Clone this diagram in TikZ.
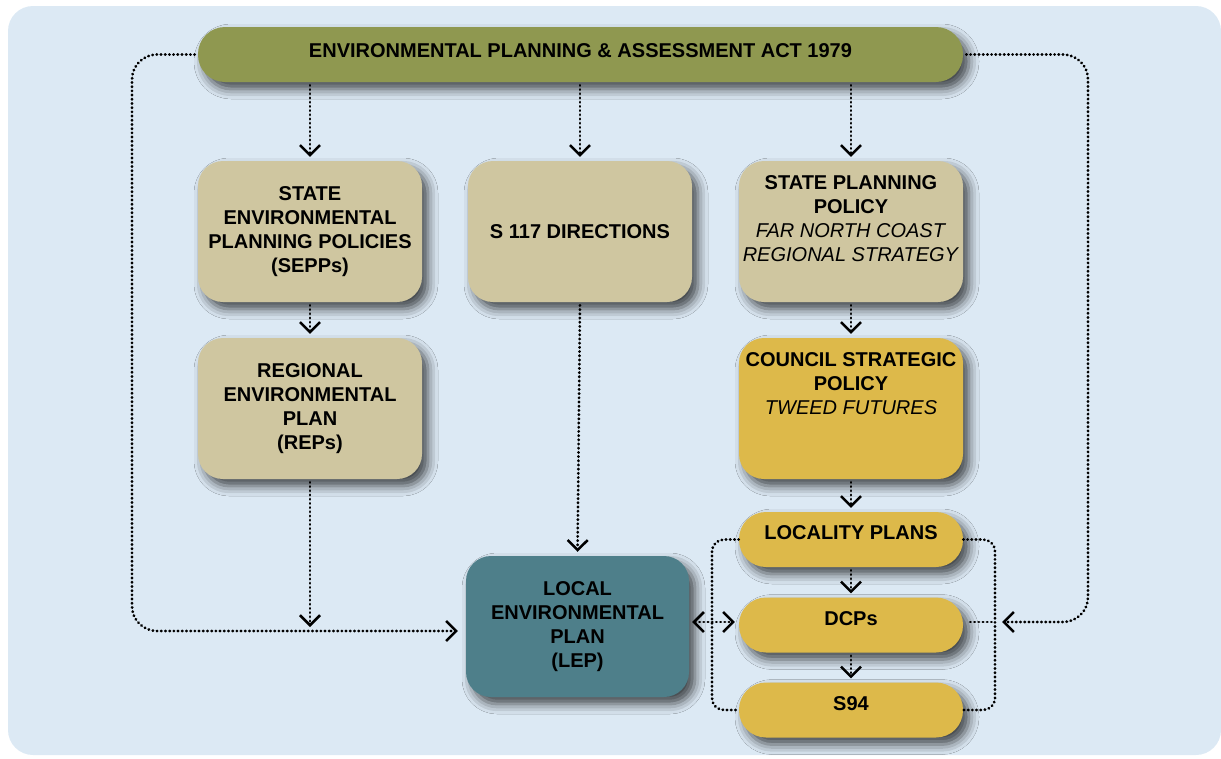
\documentclass[tikz,border=0pt]{standalone}
\usepackage{fontspec}
\setmainfont{Liberation Sans}
\usepackage{tikz}
\usetikzlibrary{arrows.meta,shadows.blur}
\definecolor{panelblue}{HTML}{DCE9F4}
\definecolor{actgreen}{HTML}{8F9850}
\definecolor{policytan}{HTML}{CFC6A0}
\definecolor{councilgold}{HTML}{DDB94A}
\definecolor{lepteal}{HTML}{4E7F8A}
\begin{document}
\begin{tikzpicture}[x=1pt,y=-1pt,
    >={Straight Barb[length=10pt,width=20pt,line width=2.5pt]},
    box/.style={rounded corners=25pt, minimum width=224pt, minimum height=141pt,
      align=center, inner sep=3pt, font=\fontsize{20}{24}\selectfont\bfseries,
      blur shadow={shadow xshift=6pt, shadow yshift=-7pt, shadow blur radius=10pt, shadow opacity=70}},
    pill/.style={box, rounded corners=27pt, minimum height=55pt, text height=10pt, text depth=10pt},
    link/.style={line width=2.8pt, dash pattern=on 0.4pt off 3.8pt, line cap=round},
    arr/.style={link, ->, shorten <=3pt, shorten >=4pt}]
          \useasboundingbox (0,0) rectangle (1221,758);
          \fill[panelblue, rounded corners=25pt] (8,6) rectangle (1221,755);

          \node[pill, fill=actgreen, minimum width=765pt, text depth=5pt] (act) at (580.5,54.5) {ENVIRONMENTAL PLANNING \& ASSESSMENT ACT 1979};
          \node[box, fill=policytan] (sepp) at (310,231.5) {STATE\\ENVIRONMENTAL\\PLANNING POLICIES\\(SEPPs)};
          \node[box, fill=policytan] (dir) at (580,231.5) {S 117 DIRECTIONS};
          \node[box, fill=policytan] (spp) at (851,231.5) {STATE PLANNING\\POLICY\\\textnormal{\itshape FAR NORTH COAST}\\\textnormal{\itshape REGIONAL STRATEGY}\\[-6pt]\strut};
          \node[box, fill=policytan] (rep) at (310,408.5) {REGIONAL\\ENVIRONMENTAL\\PLAN\\(REPs)};
          \node[box, fill=councilgold] (csp) at (851,408.5) {COUNCIL STRATEGIC\\POLICY\\\textnormal{\itshape TWEED FUTURES}\\\strut\\[-6pt]\strut};
          \node[pill, fill=councilgold] (loc) at (851,539.5) {LOCALITY PLANS};
          \node[pill, fill=councilgold] (dcp) at (851,625) {DCPs};
          \node[pill, fill=councilgold] (s94) at (851,710) {S94};
          \node[box, fill=lepteal, minimum width=223pt] (lep) at (577.5,626.5) {LOCAL\\ENVIRONMENTAL\\PLAN\\(LEP)};

          \coordinate (lc) at (132,631);
          \coordinate (rc) at (1088,622);
          \coordinate (lb) at (712,622);
          \coordinate (rb) at (995,622);

          \draw[arr] (act.south -| sepp) -- (sepp.north);
          \draw[arr] (act.south -| dir) -- (dir.north);
          \draw[arr] (act.south -| spp) -- (spp.north);
          \draw[arr] (sepp.south) -- (rep.north);
          \draw[arr] (spp.south) -- (csp.north);
          \draw[arr] (csp.south) -- (loc.north);
          \draw[arr] (loc.south) -- (dcp.north);
          \draw[arr] (dcp.south) -- (s94.north);
          \draw[arr] (dir.south) -- (lep.north);
          \draw[arr] (rep.south) -- (rep.south |- lc);
          \draw[arr, rounded corners=25pt, shorten >=8pt] (act.west) -| (lc) -- (lc -| lep.west);
          \draw[arr, rounded corners=25pt, shorten >=7pt] (act.east) -| (rc) -- (rb);
          \draw[link, <->, shorten <=3pt, shorten >=4pt] (lep.east |- rb) -- (dcp.west |- rb);

          \draw[link, rounded corners=12pt] (loc.west) -| (lb |- s94) -- (s94.west);
          \draw[link, rounded corners=12pt] (loc.east) -| (rb |- s94) -- (s94.east);
          \draw[link, shorten <=7pt] (dcp.east |- rb) -- (rb);
        \end{tikzpicture}
\end{document}
